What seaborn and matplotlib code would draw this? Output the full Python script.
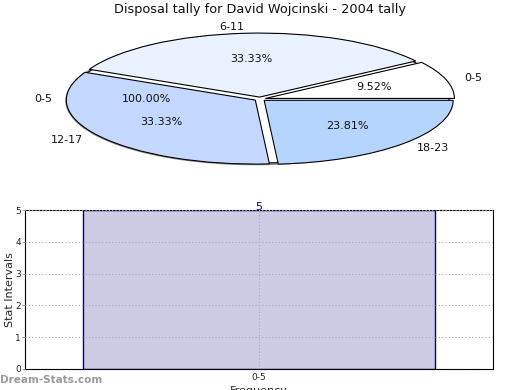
import matplotlib
matplotlib.use("Agg")
import matplotlib.pyplot as plt
import seaborn as sns
import pandas as pd

# ---- data ----
pie_labels = ["0-5", "6-11", "12-17", "18-23"]
pie_values = [2, 7, 7, 5]
pie_colors = ["#FFFFFF", "#EAF1FF", "#C5D8FF", "#B5D5FF"]
full_labels = ["0-5"]
full_values = [1]

bar_categories = ["0-5"]
bar_values = [5]
y_ticks = [0, 1, 2, 3, 4, 5]

title = "Disposal tally for David Wojcinski - 2004 tally"

sns.set_style("white")
plt.rcParams['font.family'] = ['DejaVu Sans']

W, H = 520, 390
fig = plt.figure(figsize=(W / 100, H / 100), dpi=100)

# ---- pie (elliptical) ----
cx, cy, rx, ry = 260, 99, 189, 64
ax_pie = fig.add_axes([(cx - rx) / W, 1 - (cy + ry) / H, 2 * rx / W, 2 * ry / H])
wp = dict(edgecolor="black", linewidth=0.8)
tp = dict(fontsize=8, color="#111111")
ax_pie.pie(full_values, labels=full_labels, autopct="%1.2f%%", colors=["white"],
           shadow=True, wedgeprops=wp, textprops=tp, startangle=0)
ax_pie.pie(pie_values, labels=pie_labels, autopct="%1.2f%%", colors=pie_colors,
           explode=[0.03] * len(pie_values), wedgeprops=wp, textprops=tp,
           startangle=0)
ax_pie.set_aspect("auto")
ax_pie.set_xlim(-1, 1)
ax_pie.set_ylim(-1, 1)
ax_pie.axis("off")

fig.text(0.5, 1 - 10 / H, title, ha="center", va="center", fontsize=9.3, color="#111111")

# ---- bar ----
ax = fig.add_axes([25 / W, 1 - 369 / H, 468 / W, 159 / H])
df = pd.DataFrame({"cat": bar_categories, "val": bar_values})
sns.barplot(data=df, x="cat", y="val", ax=ax, color="#CCCCE5", saturation=1,
            width=0.75, edgecolor="#00008B", linewidth=1.0)
ax.set_xlim(-0.5, 0.5)
ax.set_ylim(0, 5)
ax.set_yticks(y_ticks)
ax.set_axisbelow(False)
ax.grid(True, axis="both", linestyle=(0, (1, 2)), color="#AAAAAA", linewidth=0.8)
for s in ax.spines.values():
    s.set_color("black")
    s.set_linewidth(0.8)
ax.tick_params(axis="both", labelsize=6.5, length=2, width=0.6, color="#888888",
               left=True, bottom=False, pad=1)
ax.set_xlabel("Frequency", fontsize=8)
ax.xaxis.set_label_coords(0.5, -0.105)
ax.set_ylabel("Stat Intervals", fontsize=8)
ax.yaxis.set_label_coords(-0.022, 0.5)
for i, v in enumerate(bar_values):
    ax.text(i, v, str(v), ha="center", va="baseline", color="#00008B", fontsize=8)

fig.text(0.0, 1 - 380 / H, "Dream-Stats.com", ha="left", va="center",
         fontsize=7.5, fontweight="bold", color="#9A9A9A")

fig.savefig("out.png", dpi=100)
